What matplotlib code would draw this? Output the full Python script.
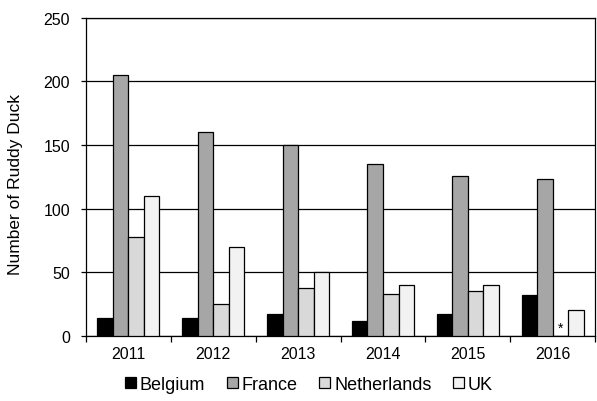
import matplotlib
matplotlib.use("Agg")
import matplotlib.pyplot as plt
import numpy as np

years = ["2011", "2012", "2013", "2014", "2015", "2016"]
belgium = [14, 14, 17, 12, 17, 32]
france = [205, 160, 150, 135, 126, 123]
netherlands = [78, 25, 38, 33, 35, 0]
uk = [110, 70, 50, 40, 40, 20]
series_names = ["Belgium", "France", "Netherlands", "UK"]
colors = ["#000000", "#A6A6A6", "#D9D9D9", "#F2F2F2"]

plt.rcParams['font.family'] = ['Liberation Sans', 'DejaVu Sans']

fig = plt.figure(figsize=(5.97, 4.02), dpi=100)
ax = fig.add_axes([0.144, 0.162, 0.853, 0.791])

x = np.arange(len(years))
bw = 0.183
data = [belgium, france, netherlands, uk]
handles = []
for i, (vals, c, n) in enumerate(zip(data, colors, series_names)):
    b = ax.bar(x + (i - 1.5) * bw, vals, width=bw, color=c, edgecolor="black",
               linewidth=0.9, label=n, zorder=3)
    handles.append(b)

# asterisk for missing Netherlands 2016
ax.text(x[5] + 0.5 * bw, 1, "*", ha="center", va="bottom", fontsize=10, zorder=4)

ax.set_xlim(-0.5, len(years) - 0.5)
ax.set_ylim(0, 250)
ax.set_yticks([0, 50, 100, 150, 200, 250])
ax.yaxis.grid(True, color="black", linewidth=0.9, zorder=0)
ax.set_axisbelow(True)
ax.set_xticks(x)
ax.set_xticklabels(years, fontsize=11.5)
ax.set_xticks(np.arange(-0.5, len(years)), minor=True)
ax.tick_params(axis="x", which="major", length=0, pad=7)
ax.tick_params(axis="x", which="minor", length=4, width=0.9, direction="out")
ax.tick_params(axis="y", labelsize=11.5, length=3.5, width=0.9, direction="out", pad=8)
for s in ax.spines.values():
    s.set_linewidth(0.9)
ax.set_ylabel("Number of Ruddy Duck", fontsize=12.5)
ax.yaxis.set_label_coords(-0.124, 0.478)

fig.legend(handles=handles, labels=series_names, loc="center", bbox_to_anchor=(0.5176, 0.042),
           ncol=4, frameon=False, fontsize=13, handlelength=0.6, handleheight=0.6,
           handletextpad=0.22, columnspacing=1.2, borderaxespad=0)

fig.savefig("out.png", dpi=100)
